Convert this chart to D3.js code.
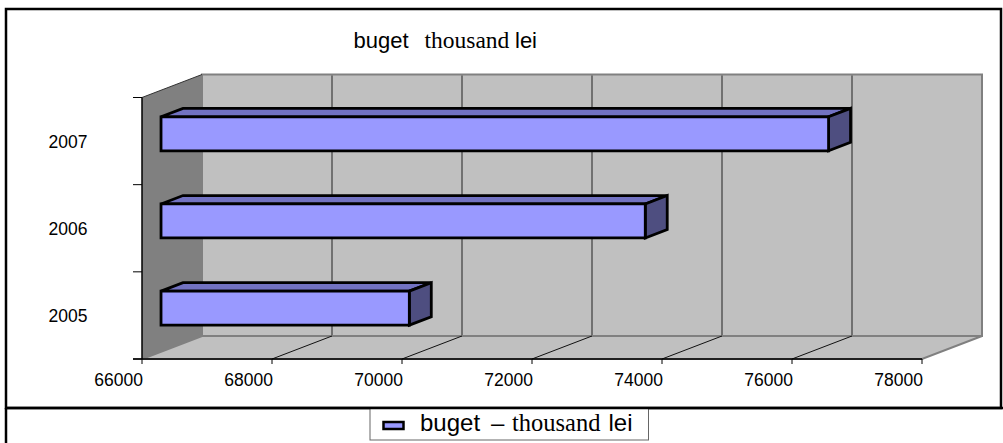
<!DOCTYPE html>
<html>
<head>
<meta charset="utf-8">
<script src="https://cdn.jsdelivr.net/npm/d3@7"></script>
<style>
  html, body { margin: 0; padding: 0; background: #fff; }
  svg { display: block; }
</style>
</head>
<body>
<svg id="chart" width="1003" height="443"></svg>
<script>
// Budget per year, thousand lei
const years = ["2007", "2006", "2005"];
const budget = [76270, 73450, 69820];
const xTicks = [66000, 68000, 70000, 72000, 74000, 76000, 78000];

const SANS = "'Liberation Sans', Arial, sans-serif";
const SERIF = "'Liberation Serif', 'Times New Roman', 'DejaVu Serif', serif";

const W = 1003, H = 443;
const svg = d3.select("#chart");

// plot geometry (front plane of the 3D box) and oblique depth offset
const plot = { left: 142, right: 922, top: 97.5, bottom: 359 };
const DX = 60, DY = -23;          // full depth of the box
const BAR_D0 = 0.317, BAR_D1 = 0.683; // bar front/back depth fractions

const x = d3.scaleLinear().domain([66000, 78000]).range([plot.left, plot.right]);
const y = d3.scaleBand().domain(years).range([plot.top, plot.bottom]).padding(0);
const barH = y.bandwidth() * 0.39;

const pt = (px, py, d) => [px + DX * d, py + DY * d];
const poly = pts => pts.map(p => p.join(",")).join(" ");

// outer frame
svg.append("rect").attr("x", 0).attr("y", 0).attr("width", W).attr("height", H).attr("fill", "#fff");
svg.append("rect")
  .attr("x", 6).attr("y", 9).attr("width", 995).attr("height", 399)
  .attr("fill", "none").attr("stroke", "#000").attr("stroke-width", 2.5);
svg.append("line").attr("x1", 6).attr("x2", 6).attr("y1", 408).attr("y2", H)
  .attr("stroke", "#000").attr("stroke-width", 2.5);

// mixed-font caption helper: each word placed at its own x
function caption(sel, words, baseline) {
  const t = sel.append("text").attr("y", baseline).attr("fill", "#000");
  words.forEach(w => t.append("tspan")
    .attr("font-family", w.font).attr("font-size", w.size).attr("x", w.x).text(w.text));
  return t;
}

// title
caption(svg, [
  { text: "buget", font: SANS, size: 22, x: 353.5 },
  { text: "thousand", font: SERIF, size: 23.5, x: 424.5 },
  { text: "lei", font: SANS, size: 22, x: 515 }
], 48);

const g = svg.append("g");

// back wall
const [x0, x1] = x.range();
g.append("polygon")
  .attr("points", poly([pt(x0, plot.top, 1), pt(x1, plot.top, 1), pt(x1, plot.bottom, 1), pt(x0, plot.bottom, 1)]))
  .attr("fill", "#c0c0c0").attr("stroke", "#808080").attr("stroke-width", 2);

// floor
g.append("polygon")
  .attr("points", poly([pt(x0, plot.bottom, 0), pt(x1, plot.bottom, 0), pt(x1, plot.bottom, 1), pt(x0, plot.bottom, 1)]))
  .attr("fill", "#c0c0c0").attr("stroke", "#808080").attr("stroke-width", 2);

// left wall
g.append("polygon")
  .attr("points", poly([pt(x0, plot.top, 0), pt(x0, plot.top, 1), pt(x0, plot.bottom, 1), pt(x0, plot.bottom, 0)]))
  .attr("fill", "#808080");
g.append("line")
  .attr("x1", x0).attr("y1", plot.top).attr("x2", x0 + DX).attr("y2", plot.top + DY)
  .attr("stroke", "#333").attr("stroke-width", 1);

// gridlines on back wall and floor
const inner = xTicks.slice(1, -1);
g.selectAll(".grid-wall").data(inner).join("line")
  .attr("x1", d => x(d) + DX).attr("x2", d => x(d) + DX)
  .attr("y1", plot.top + DY + 1).attr("y2", plot.bottom + DY - 1)
  .attr("stroke", "#222").attr("stroke-width", 1);
g.selectAll(".grid-floor").data(inner).join("line")
  .attr("x1", d => x(d)).attr("y1", plot.bottom)
  .attr("x2", d => x(d) + DX).attr("y2", plot.bottom + DY)
  .attr("stroke", "#111").attr("stroke-width", 1);

// axes
g.append("line").attr("x1", plot.left).attr("x2", plot.left)
  .attr("y1", plot.top).attr("y2", plot.bottom).attr("stroke", "#000").attr("stroke-width", 1.5);
g.append("line").attr("x1", plot.left - 9).attr("x2", plot.right)
  .attr("y1", plot.bottom).attr("y2", plot.bottom).attr("stroke", "#000").attr("stroke-width", 1.5);

// y-axis ticks at band boundaries
const yBounds = years.map(d => y(d)).concat([plot.bottom]);
g.selectAll(".ytick").data(yBounds).join("line")
  .attr("x1", plot.left - 9).attr("x2", plot.left)
  .attr("y1", d => d).attr("y2", d => d)
  .attr("stroke", "#000").attr("stroke-width", 1);

// x-axis ticks
g.selectAll(".xtick").data(xTicks).join("line")
  .attr("x1", d => x(d)).attr("x2", d => x(d))
  .attr("y1", plot.bottom).attr("y2", plot.bottom + 5)
  .attr("stroke", "#000").attr("stroke-width", 1);

// x-axis labels
g.selectAll(".xlabel").data(xTicks).join("text")
  .attr("font-family", SANS).attr("font-size", 17.5)
  .attr("x", d => x(d) + 1).attr("y", 385.5)
  .attr("text-anchor", "end").attr("fill", "#000")
  .text(d => d);

// y-axis labels
g.selectAll(".ylabel").data(years).join("text")
  .attr("font-family", SANS).attr("font-size", 17.5)
  .attr("x", 87.5).attr("y", d => y(d) + y.bandwidth() / 2 + 7)
  .attr("text-anchor", "end").attr("fill", "#000")
  .text(d => d);

// 3D bars
const bars = years.map((yr, i) => ({ yr, v: budget[i] }));
const barG = g.selectAll(".bar").data(bars).join("g");
barG.each(function (d) {
  const sel = d3.select(this);
  const cy = y(d.yr) + y.bandwidth() / 2;
  const top = cy - barH / 2, bot = cy + barH / 2;
  const xa = x(66000), xb = x(d.v);
  const f = [pt(xa, top, BAR_D0), pt(xb, top, BAR_D0), pt(xb, bot, BAR_D0), pt(xa, bot, BAR_D0)];
  const b = [pt(xa, top, BAR_D1), pt(xb, top, BAR_D1), pt(xb, bot, BAR_D1)];
  const style = s => s.attr("stroke", "#000").attr("stroke-width", 2.8).attr("stroke-linejoin", "miter");
  style(sel.append("polygon").attr("points", poly([f[0], f[1], b[1], b[0]])).attr("fill", "#7272c2"));
  style(sel.append("polygon").attr("points", poly([f[1], b[1], b[2], f[2]])).attr("fill", "#4e4e80"));
  style(sel.append("polygon").attr("points", poly(f)).attr("fill", "#9999ff"));
});

// legend
const lg = svg.append("g");
lg.append("rect").attr("x", 370).attr("y", 408).attr("width", 278.5).attr("height", 32)
  .attr("fill", "#fff").attr("stroke", "#666").attr("stroke-width", 1);
svg.append("line").attr("x1", 6).attr("x2", W).attr("y1", 408).attr("y2", 408)
  .attr("stroke", "#000").attr("stroke-width", 2.5);
lg.append("rect").attr("x", 383.5).attr("y", 422).attr("width", 20).attr("height", 7)
  .attr("fill", "#9999ff").attr("stroke", "#000").attr("stroke-width", 2.5);
caption(lg, [
  { text: "buget", font: SANS, size: 24, x: 420 },
  { text: "–", font: SANS, size: 24, x: 491 },
  { text: "thousand", font: SERIF, size: 24.5, x: 512 },
  { text: "lei", font: SANS, size: 24, x: 608.5 }
], 431);
</script>
</body>
</html>
